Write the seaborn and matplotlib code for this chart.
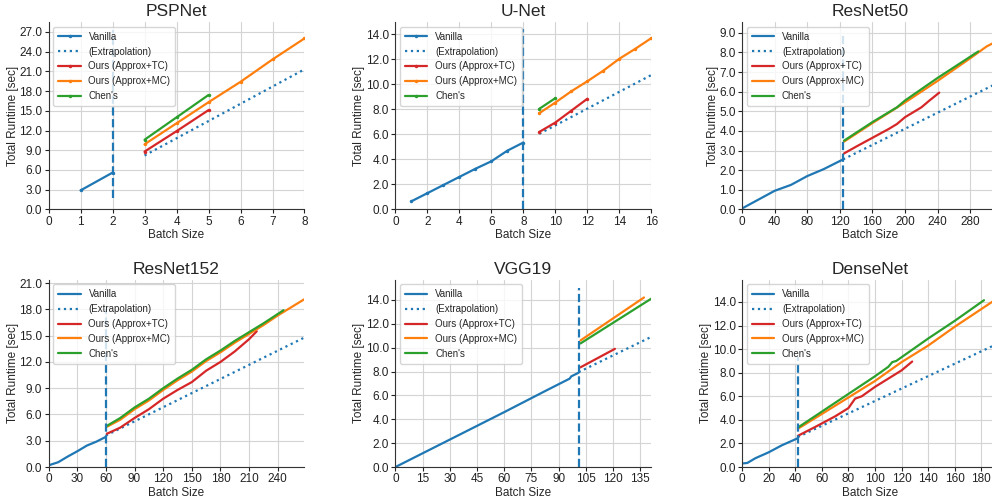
import matplotlib
matplotlib.use("Agg")
import matplotlib.pyplot as plt
import seaborn as sns
from matplotlib.ticker import FormatStrFormatter, MultipleLocator

LABELS = ["Vanilla", "(Extrapolation)", "Ours (Approx+TC)", "Ours (Approx+MC)", "Chen's"]
COLORS = ["#1f77b4", "#1f77b4", "#d62728", "#ff7f0e", "#2ca02c"]
STYLES = ["-", ":", "-", "-", "-"]

# PSPNet
psp_vanilla_x = [1, 2]
psp_vanilla_y = [2.9, 5.6]
psp_extra_x = [3, 8]
psp_extra_y = [8.2, 21.3]
psp_tc_x = [3, 4, 5]
psp_tc_y = [8.8, 11.9, 15.1]
psp_mc_x = [3, 4, 5, 6, 7, 8]
psp_mc_y = [9.9, 13.1, 16.3, 19.4, 22.8, 26.0]
psp_chen_x = [3, 4, 5]
psp_chen_y = [10.6, 14.0, 17.4]

# U-Net
unet_vanilla_x = [1, 2, 3, 4, 5, 6, 7, 8]
unet_vanilla_y = [0.65, 1.3, 1.95, 2.6, 3.25, 3.85, 4.7, 5.35]
unet_extra_x = [9, 16]
unet_extra_y = [6.05, 10.75]
unet_tc_x = [9, 10, 11, 12]
unet_tc_y = [6.2, 6.95, 7.9, 8.85]
unet_mc_x = [9, 10, 11, 12, 13, 14, 15, 16]
unet_mc_y = [7.7, 8.55, 9.45, 10.25, 11.1, 12.05, 12.85, 13.7]
unet_chen_x = [9, 10]
unet_chen_y = [8.05, 8.9]

# ResNet50
r50_vanilla_x = [0, 20, 40, 60, 80, 100, 124]
r50_vanilla_y = [0.05, 0.5, 0.95, 1.25, 1.7, 2.05, 2.55]
r50_extra_x = [124, 314]
r50_extra_y = [2.55, 6.45]
r50_tc_x = [125, 140, 160, 180, 190, 200, 220, 230, 242]
r50_tc_y = [2.85, 3.2, 3.65, 4.1, 4.35, 4.7, 5.2, 5.55, 5.95]
r50_mc_x = [125, 160, 200, 240, 280, 300, 314]
r50_mc_y = [3.45, 4.4, 5.45, 6.55, 7.7, 8.3, 8.6]
r50_chen_x = [125, 160, 190, 200, 240, 290]
r50_chen_y = [3.5, 4.45, 5.2, 5.55, 6.7, 8.05]

# ResNet152
r152_vanilla_x = [0, 10, 20, 30, 40, 50, 60]
r152_vanilla_y = [0.2, 0.55, 1.2, 1.8, 2.45, 2.9, 3.45]
r152_extra_x = [60, 270]
r152_extra_y = [3.6, 14.9]
r152_tc_x = [61, 75, 90, 105, 120, 135, 150, 165, 180, 195, 210, 218]
r152_tc_y = [3.8, 4.5, 5.6, 6.6, 7.8, 8.8, 9.7, 11.0, 12.0, 13.2, 14.6, 15.5]
r152_mc_x = [61, 75, 90, 105, 120, 135, 150, 165, 180, 195, 210, 225, 240, 255, 270]
r152_mc_y = [4.6, 5.4, 6.6, 7.6, 8.8, 9.9, 10.9, 12.1, 13.1, 14.2, 15.2, 16.2, 17.3, 18.3, 19.3]
r152_chen_x = [61, 75, 90, 105, 120, 135, 150, 165, 180, 195, 210, 225, 246]
r152_chen_y = [4.7, 5.6, 6.8, 7.8, 9.0, 10.1, 11.1, 12.3, 13.3, 14.4, 15.4, 16.4, 17.9]

# VGG19
vgg_vanilla_x = [0, 30, 60, 83, 96, 97, 101]
vgg_vanilla_y = [0.0, 2.3, 4.6, 6.4, 7.4, 7.6, 7.9]
vgg_extra_x = [101, 141]
vgg_extra_y = [7.95, 10.9]
vgg_tc_x = [102, 121]
vgg_tc_y = [8.35, 9.9]
vgg_mc_x = [102, 137]
vgg_mc_y = [10.6, 14.2]
vgg_chen_x = [102, 141]
vgg_chen_y = [10.35, 14.1]

# DenseNet
dn_vanilla_x = [0, 4, 10, 20, 30, 42]
dn_vanilla_y = [0.3, 0.35, 0.75, 1.25, 1.85, 2.45]
dn_extra_x = [42, 192]
dn_extra_y = [2.55, 10.45]
dn_tc_x = [42, 55, 70, 80, 85, 90, 100, 110, 120, 128]
dn_tc_y = [2.65, 3.4, 4.3, 5.0, 5.8, 6.0, 6.8, 7.5, 8.2, 8.95]
dn_mc_x = [42, 60, 80, 100, 120, 140, 160, 180, 192]
dn_mc_y = [3.25, 4.5, 5.9, 7.3, 8.9, 10.3, 11.9, 13.4, 14.3]
dn_chen_x = [42, 60, 80, 100, 110, 113, 116, 140, 160, 182]
dn_chen_y = [3.35, 4.7, 6.2, 7.7, 8.5, 8.9, 9.0, 10.9, 12.4, 14.15]

panels = [
    dict(title="PSPNet", markers=True, xlim=8, ylim=28.5, xstep=1, ystep=3, vline=(2, 1.8, 27.3),
         series=[(psp_vanilla_x, psp_vanilla_y), (psp_extra_x, psp_extra_y), (psp_tc_x, psp_tc_y),
                 (psp_mc_x, psp_mc_y), (psp_chen_x, psp_chen_y)]),
    dict(title="U-Net", markers=True, xlim=16, ylim=15, xstep=2, ystep=2, vline=(8, 0, 14.4),
         series=[(unet_vanilla_x, unet_vanilla_y), (unet_extra_x, unet_extra_y), (unet_tc_x, unet_tc_y),
                 (unet_mc_x, unet_mc_y), (unet_chen_x, unet_chen_y)]),
    dict(title="ResNet50", markers=False, xlim=314, ylim=9.55, xstep=40, ystep=1, vline=(124, 0, 9.0),
         series=[(r50_vanilla_x, r50_vanilla_y), (r50_extra_x, r50_extra_y), (r50_tc_x, r50_tc_y),
                 (r50_mc_x, r50_mc_y), (r50_chen_x, r50_chen_y)]),
    dict(title="ResNet152", markers=False, xlim=268, ylim=21.4, xstep=30, ystep=3, vline=(60, 0, 18.0),
         series=[(r152_vanilla_x, r152_vanilla_y), (r152_extra_x, r152_extra_y), (r152_tc_x, r152_tc_y),
                 (r152_mc_x, r152_mc_y), (r152_chen_x, r152_chen_y)]),
    dict(title="VGG19", markers=False, xlim=141, ylim=15.7, xstep=15, ystep=2, vline=(101, 0, 15.0),
         series=[(vgg_vanilla_x, vgg_vanilla_y), (vgg_extra_x, vgg_extra_y), (vgg_tc_x, vgg_tc_y),
                 (vgg_mc_x, vgg_mc_y), (vgg_chen_x, vgg_chen_y)]),
    dict(title="DenseNet", markers=False, xlim=192.5, ylim=15.9, xstep=20, ystep=2, vline=(42, 0, 9.3),
         series=[(dn_vanilla_x, dn_vanilla_y), (dn_extra_x, dn_extra_y), (dn_tc_x, dn_tc_y),
                 (dn_mc_x, dn_mc_y), (dn_chen_x, dn_chen_y)]),
]

sns.set_style("whitegrid", {
    "grid.color": "#d4d4d4",
    "axes.edgecolor": "#333333",
    "xtick.bottom": True,
    "ytick.left": True,
})
plt.rcParams["font.family"] = ["Liberation Sans", "DejaVu Sans"]
plt.rcParams["xtick.major.size"] = 3
plt.rcParams["ytick.major.size"] = 3

fig, axes = plt.subplots(2, 3, figsize=(9.92, 4.99), dpi=100)
plt.subplots_adjust(left=0.049, right=1.006, top=0.956, bottom=0.064, wspace=0.355, hspace=0.374)

for ax, p in zip(axes.flat, panels):
    for (xs, ys), label, color, ls in zip(p["series"], LABELS, COLORS, STYLES):
        marker = "." if (p["markers"] and ls == "-") else None
        sns.lineplot(x=xs, y=ys, ax=ax, color=color, linestyle=ls, linewidth=1.6,
                     marker=marker, markersize=5, markeredgewidth=0, label=label)
    vx, v0, v1 = p["vline"]
    ax.vlines(vx, v0, v1, colors="#1f77b4", linestyles="--", linewidth=1.6)

    ax.set_xlim(0, p["xlim"])
    ax.set_ylim(0, p["ylim"])
    ax.xaxis.set_major_locator(MultipleLocator(p["xstep"]))
    ax.yaxis.set_major_locator(MultipleLocator(p["ystep"]))
    ax.yaxis.set_major_formatter(FormatStrFormatter("%.1f"))
    ax.tick_params(labelsize=8.5, pad=1.5, colors="#222222")
    ax.set_title(p["title"], fontsize=12.5, pad=4)
    ax.set_xlabel("Batch Size", fontsize=8.5, labelpad=1)
    ax.set_ylabel("Total Runtime [sec]", fontsize=8.5, labelpad=0.5)
    sns.despine(ax=ax)
    ax.legend(loc="upper left", fontsize=7, frameon=True, framealpha=0.8,
              handlelength=2.3, borderpad=0.5, labelspacing=0.5)

plt.savefig("out.png", dpi=100)
